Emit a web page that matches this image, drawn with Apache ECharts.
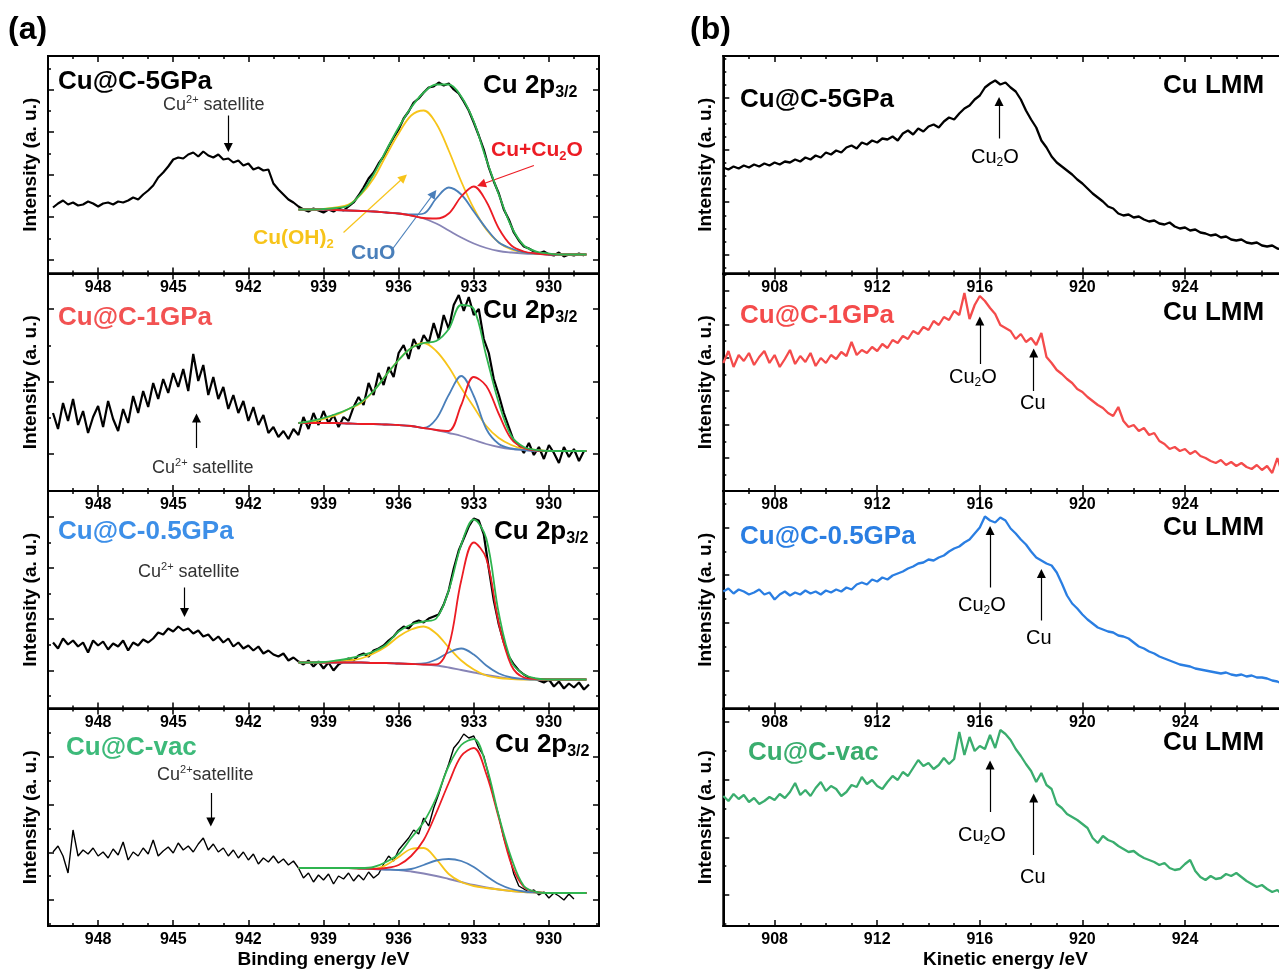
<!DOCTYPE html>
<html>
<head>
<meta charset="utf-8">
<title>Cu 2p3/2 and Cu LMM spectra</title>
<script src="https://cdn.jsdelivr.net/npm/echarts@6/dist/echarts.min.js"></script>
<style>
html, body { margin: 0; padding: 0; background: #fff; overflow: hidden; }
#chart { width: 1279px; height: 971px; }
</style>
</head>
<body>
<div id="chart"></div>
<script>
(function(){

// ---- data ----
var samples = ['Cu@C-5GPa', 'Cu@C-1GPa', 'Cu@C-0.5GPa', 'Cu@C-vac'];

var beLabels = [930, 933, 936, 939, 942, 945, 948];
var keLabels = [908, 912, 916, 920, 924];

// Cu 2p3/2 raw spectra, binding energy from 949.8 eV down in 0.2 eV steps
var be5GPa = [66,70,73,69,71,68,69,72,70,67, 70,71,69,72,71,73,76,74,79,83,
  88,96,101,107,114,116,115,119,121,117, 122,118,116,119,114,115,111,113,108,110,
  104,106,103,104,90,84,79,74,71,67, 64,62,65,63,61,64,62,65,63,67,
  71,78,86,95,101,110,117,127,136,144, 155,162,171,175,181,186,187,191,188,190,
  184,180,172,163,151,138,124,106,92,80, 64,54,41,33,27,25,22,20,22,19,
  18,21,17,19,18,20,18];
var be1GPa = [78,62,88,70,92,66,80,58,74,85, 64,90,72,60,82,68,95,78,100,84,
  108,92,112,98,118,104,122,100,137,110, 126,96,114,92,104,82,96,78,90,70,
  84,66,76,58,64,54,60,52,62,56, 74,62,78,66,80,68,76,64,74,70,
  84,94,86,108,96,118,106,124,114,138, 146,132,152,142,156,148,168,152,176,162,
  186,196,180,194,176,182,152,138,112,96, 78,64,50,46,38,48,36,44,32,46,
  38,28,44,34,42,30,40];
var be05GPa = [66,60,70,64,68,62,66,56,68,63, 67,59,65,62,68,58,66,63,69,66,
  70,76,74,80,77,82,78,80,75,78, 72,74,68,72,66,70,62,66,60,63,
  58,62,55,58,54,52,55,48,51,47, 44,48,42,47,40,46,38,44,47,50,
  48,53,55,52,58,60,63,68,72,78, 82,80,86,88,86,90,92,94,104,118,
  140,158,170,182,190,188,174,140,108,84, 66,52,44,38,34,31,30,28,26,29,
  22,27,20,25,21,26,19,24];
var beVac = [74,80,70,53,96,70,76,72,78,70, 74,68,77,71,84,66,74,70,78,72,
  86,70,75,79,73,83,76,80,74,82, 88,76,82,74,78,70,76,68,74,66,
  72,62,68,64,70,63,67,61,65,58, 48,53,44,51,46,52,42,50,47,53,
  45,51,46,54,48,52,62,70,65,76, 82,88,96,92,108,100,118,132,148,162,
  178,184,192,188,190,178,170,150,128,110, 88,72,52,40,37,34,36,31,34,28,
  33,30,26,32,27];

// fitted components, binding energy 940 eV down to 928.5 eV in 0.5 eV steps
var fitBE = [940, 939.5, 939, 938.5, 938, 937.5, 937, 936.5, 936, 935.5, 935, 934.5,
  934, 933.5, 933, 932.5, 932, 931.5, 931, 930.5, 930, 929.5, 929, 928.5];

var fitBg5  = [64,64,64,63.5,63,62.5,62,61,60,58,55,50,43,36,30,25.5,22.5,21,20,19.5,19,19,19,19];
var fitOH5  = [64,64,64.5,66,69,79,95,118,140,158,163,150,123,92,65,44,31,24,21,20,19.5,19,19,19];
var fitCuO5 = [64,64,64,63.5,63,62.5,62,61,60,59,60,75,86,79,62,45,31,25,21,20,19,19,19,19];
var fitCu5  = [64,64,64,63.5,63,62.5,62,61,60,58,55.5,55,60,77,87,72,45,28,22,20,19,19,19,19];
var fitSum5 = [64,64,64.5,65.5,68,80,99,123,146,166,181,189,189,177,152,114,79,47,28,22,20,19,19,19];

var fitBg1  = [68,68,68,68,67.5,67,67,66.5,66,65,63,61,58,55,51,47,44,42,41,40,40,40,40,40];
var fitOH1  = [68,69,72,76,82,88,100,116,131,143,148,140,124,103,84,65,53,46,42,41,40,40,40,40];
var fitCuO1 = [68,68,68,68,67.5,67,67,66.5,66,65,63,72,96,115,95,62,47,42.5,41,40,40,40,40,40];
var fitCu1  = [68,68,68,68,67.5,67,67,66.5,66,65,63,61,60,86,114,105,77,52,43,40.5,40,40,40,40];
var fitSum1 = [68,70,73,77,82,89,100,116,131,143,148,150,162,186,182,135,88,55,44,41,40,40,40,40];

var fitBg05  = [46,46,46,46,46,46,45.5,45.5,45,44.5,44,43,41,38.5,36,33.5,31.5,30,29.5,29,29,29,29,29];
var fitOH05  = [46,46,46,47,48,50,55,62,72,79,82,75,61,48,39,33,30.5,29.5,29,29,29,29,29,29];
var fitCuO05 = [46,46,46,46,46,46,45.5,45.5,45,44.5,45,49,56,60,54,43,35,31,29.5,29,29,29,29,29];
var fitCu05  = [46,46,46,46,46,46,45.5,45.5,45,44.5,44,44,62,128,166,150,85,43,31,29.5,29,29,29,29];
var fitSum05 = [46,46,46.5,48,50,53,57,64,77,84,87,90,118,164,189,170,95,47,34,30,29,29,29,29];

var fitBgVac  = [58,58,58,58,58,57.5,57,56.5,56,54.5,52.5,50,47,44,41,38.5,36.5,35,34,33.5,33,33,33,33];
var fitOHVac  = [58,58,58,58,58,57.5,57,61,69,77,78,67,52,44,40,38,36.5,35,34,33.5,33,33,33,33];
var fitCuOVac = [58,58,58,58,58,57.5,57,56.5,56,57,61,65.5,67,65,59,50,42,37,34.5,33.5,33,33,33,33];
var fitCuVac  = [58,58,58,58,58,57.5,57,58,61,70,86,113,143,170,178,152,108,62,39,34,33,33,33,33];
var fitSumVac = [58,58,58,58,58,58,59,64,72,88,104,128,160,181,187,160,110,68,40,34,33,33,33,33];

// Cu LMM raw spectra, kinetic energy from 906.0 eV up in 0.2 eV steps
var ke5GPa = [106,104,107,105,108,106,109,107,110,108, 111,109,112,111,114,112,116,114,118,116,
  121,119,123,121,126,128,125,131,129,133, 131,135,134,137,133,140,143,139,145,142,
  147,149,146,152,156,154,160,165,168,174, 178,186,190,193,189,191,186,182,174,163,
  154,146,133,126,117,111,107,103,99,94, 90,85,80,76,72,67,65,60,58,59,
  56,57,54,52,53,50,49,51,47,45, 46,43,44,41,40,38,39,36,37,34,
  33,34,31,30,31,28,27,28,25,24];
var ke1GPa = [128,140,124,136,130,138,126,134,140,128, 136,124,132,141,127,135,129,138,125,133,
  128,136,132,139,135,149,136,141,138,144, 140,147,143,151,148,155,152,160,157,164,
  161,170,166,174,171,180,176,198,172,186, 195,190,183,177,166,163,160,152,157,149,
  153,146,158,134,128,121,117,112,108,102, 99,94,90,86,83,78,75,84,70,64,
  66,60,63,56,58,50,47,42,44,40, 42,37,40,35,33,30,28,31,26,29,
  25,28,24,22,26,21,25,18,33,17];
var ke05GPa = [117,120,115,119,117,114,116,119,114,116, 109,114,117,113,116,114,118,115,117,114,
  118,116,119,117,121,119,124,126,124,129, 127,131,129,133,135,137,140,142,145,146,
  149,148,151,153,157,160,162,166,169,175, 181,192,188,186,191,188,180,175,169,164,
  157,151,148,145,143,136,125,113,105,100, 94,89,85,81,79,77,76,73,72,70,
  66,62,60,57,55,52,50,48,46,44, 43,42,40,39,38,37,36,35,36,34,
  33,34,32,33,31,31,30,28,27,25];
var keVac = [130,125,132,127,131,124,128,122,125,129, 126,132,128,134,143,131,136,130,138,144,
  135,140,137,130,134,141,139,149,142,146, 140,137,144,150,146,154,150,158,166,160,
  163,157,161,168,162,167,194,171,189,175, 180,177,191,178,196,192,186,177,170,162,
  155,144,153,141,137,122,118,112,109,106, 102,98,88,83,90,86,84,80,77,74,
  75,71,68,66,64,61,63,58,56,57, 62,66,55,49,46,50,47,48,52,50,
  53,49,45,42,39,41,37,34,36,31];

// y ticks per panel: first major, major spacing, minor divisions (intensity units)
var yTicksA = [[14, 42.5, 2], [37, 72.5, 2], [38, 51.3, 2], [26, 47.7, 2]];
var yTicksB = [[19, 52.3, 4], [33, 33.4, 2], [38, 47.7, 2], [31, 57.7, 2]];

// ---- style ----
var fam = "'Liberation Sans', Arial, Helvetica, sans-serif";
var cBg = '#8784b6', cOH = '#f7c41a', cCuO = '#4a7fba', cCu = '#ec1c24', cSum = '#2fb44f';
var sampleColor = ['#000', '#f25252', '#3d8fe8', '#3dba7a'];
var lmmColor = ['#000', '#f44b4b', '#2a7ee2', '#3aad6e'];
var panelTop = 56, panelH = 217.5;
var tickLine = {color: '#000', width: 1.5};

var grids = [], xAxes = [], yAxes = [], series = [];

function font(size, bold) {
	return (bold ? 'bold ' : '') + size + 'px ' + fam;
}

// axis that only draws ticks at every integer of its own range
function tickAxis(g, pos, min, max, inverse, len) {
	return {
		gridIndex: g, type: 'value', position: pos, min: min, max: max, inverse: inverse,
		minInterval: 1, maxInterval: 1, splitNumber: Math.max(1, Math.round(Math.abs(max - min))),
		axisLine: {show: true, onZero: false, lineStyle: {color: '#000', width: 2}},
		splitLine: {show: false}, axisLabel: {show: false},
		axisTick: {show: true, inside: true, length: len, lineStyle: tickLine},
		silent: true
	};
}

function addPanel(left, width, row, isA, yt, xName) {
	var g = grids.length;
	grids.push({left: left, top: panelTop + row * panelH, width: width, height: panelH,
		show: true, borderColor: '#000', borderWidth: 2, backgroundColor: 'transparent',
		containLabel: false, outerBoundsMode: 'none'});

	var xi = xAxes.length;
	var xMin = isA ? 928 : 906, xMax = isA ? 950 : 928;
	xAxes.push({
		gridIndex: g, type: 'value', position: 'bottom', min: xMin, max: xMax, inverse: isA,
		axisLine: {show: false, onZero: false}, splitLine: {show: false}, axisTick: {show: false},
		axisLabel: {show: true, customValues: isA ? beLabels : keLabels, margin: 6, color: '#000',
			fontSize: 16, fontWeight: 'bold', fontFamily: fam},
		name: xName || '', nameLocation: 'middle', nameGap: 24,
		nameTextStyle: {color: '#000', fontSize: 19, fontWeight: 'bold', fontFamily: fam}
	});
	// majors every 3 eV (a) or 4 eV (b) in their own units, minors every 1 eV
	var mMin = isA ? -2 / 3 : -0.5, mMax = isA ? 20 / 3 : 5;
	['bottom', 'top'].forEach(function(pos) {
		xAxes.push(tickAxis(g, pos, mMin, mMax, false, 6));
		xAxes.push(tickAxis(g, pos, xMin, xMax, isA, 3));
	});

	var yi = yAxes.length;
	yAxes.push({gridIndex: g, type: 'value', min: 0, max: panelH, show: false});
	var p0 = yt[0], d = yt[1], dm = yt[1] / yt[2];
	['left', 'right'].forEach(function(pos) {
		var major = tickAxis(g, pos, -p0 / d, (panelH - p0) / d, false, 6);
		if (pos === 'left') {
			major.name = 'Intensity (a. u.)';
			major.nameLocation = 'middle';
			major.nameRotate = 90;
			major.nameGap = 8;
			major.nameTextStyle = {color: '#000', fontSize: 19, fontWeight: 'bold', fontFamily: fam};
		}
		yAxes.push(major);
		yAxes.push(tickAxis(g, pos, -p0 / dm, (panelH - p0) / dm, false, 3));
	});
	return {x: xi, y: yi};
}

function rawPairs(start, dir, values) {
	return values.map(function(v, i) {
		return [Math.round((start + dir * 0.2 * i) * 100) / 100, v];
	});
}

function fitPairs(values) {
	return values.map(function(v, i) { return [fitBE[i], v]; });
}

function line(ax, data, color, width, smooth, z) {
	return {
		type: 'line', xAxisIndex: ax.x, yAxisIndex: ax.y, data: data,
		showSymbol: false, symbol: 'none', smooth: smooth ? 0.35 : false,
		lineStyle: {color: color, width: width}, itemStyle: {color: color},
		z: z, silent: true, animation: false
	};
}

// arrows: [x1, y1, x2, y2, color], head at the second point
function arrows(list) {
	return {
		silent: true, animation: false, symbol: ['none', 'triangle'], symbolSize: 9,
		label: {show: false}, emphasis: {disabled: true},
		lineStyle: {type: 'solid', width: 1.2, color: '#000'},
		data: list.map(function(a) {
			var c = a[4] || '#000';
			return [{coord: [a[0], a[1]], lineStyle: {color: c, width: 1.2, type: 'solid'}, itemStyle: {color: c}},
				{coord: [a[2], a[3]]}];
		})
	};
}

// text with lowered (s) or raised (p) parts
function label(x, y, parts, size, bold, color) {
	var small = Math.round(size * 0.62);
	var rich = {
		m: {font: font(size, bold), fill: color, lineHeight: size + 4},
		s: {font: font(small, bold), fill: color, lineHeight: small + 1, verticalAlign: 'bottom'},
		p: {font: font(small, bold), fill: color, lineHeight: small + 1, verticalAlign: 'top'}
	};
	var text = parts.map(function(p) { return '{' + p[1] + '|' + p[0] + '}'; }).join('');
	return {type: 'text', x: x, y: y, silent: true, z: 100,
		style: {text: text, rich: rich, font: font(size, bold), fill: color, align: 'left', verticalAlign: 'middle'}};
}

// ---- panel (a): Cu 2p3/2 ----
var rawA = [be5GPa, be1GPa, be05GPa, beVac];
var fitsA = [
	[fitBg5, fitOH5, fitCuO5, fitCu5, fitSum5],
	[fitBg1, fitOH1, fitCuO1, fitCu1, fitSum1],
	[fitBg05, fitOH05, fitCuO05, fitCu05, fitSum05],
	[fitBgVac, fitOHVac, fitCuOVac, fitCuVac, fitSumVac]
];
var arrowsA = [
	[[942.8, 158, 942.8, 126], [930.6, 108, 932.7, 89, cCu], [938.2, 41, 935.8, 96, cOH], [936.26, 24, 934.6, 80, cCuO]],
	[[944.07, 43, 944.07, 73]],
	[[944.55, 121, 944.55, 96]],
	[[943.5, 133, 943.5, 104]]
];
var fitColors = [cBg, cOH, cCuO, cCu, cSum];

for (var r = 0; r < 4; r++) {
	var ax = addPanel(48, 551, r, true, yTicksA[r], r === 3 ? 'Binding energy /eV' : '');
	var s = line(ax, rawPairs(949.8, -1, rawA[r]), '#000', r === 3 ? 1.4 : 2.2, false, 2);
	s.markLine = arrows(arrowsA[r]);
	series.push(s);
	for (var k = 0; k < 5; k++) {
		series.push(line(ax, fitPairs(fitsA[r][k]), fitColors[k], 1.8, true, 3 + k));
	}
}

// ---- panel (b): Cu LMM ----
var rawB = [ke5GPa, ke1GPa, ke05GPa, keVac];
var arrowsB = [
	[[916.75, 135, 916.75, 172]],
	[[916.0, 127, 916.0, 170], [918.1, 100, 918.1, 138]],
	[[916.4, 121, 916.4, 178], [918.4, 88, 918.4, 135]],
	[[916.4, 114, 916.4, 161], [918.1, 71, 918.1, 128]]
];
for (var r2 = 0; r2 < 4; r2++) {
	var axb = addPanel(723.3, 564.3, r2, false, yTicksB[r2], r2 === 3 ? 'Kinetic energy /eV' : '');
	var sb = line(axb, rawPairs(906, 1, rawB[r2]), lmmColor[r2], 2.3, false, 2);
	sb.markLine = arrows(arrowsB[r2]);
	series.push(sb);
}

// ---- text ----
var notes = [
	label(8, 30, [['(a)', 'm']], 32, true, '#000'),
	label(690, 30, [['(b)', 'm']], 32, true, '#000'),

	label(58, 82, [[samples[0], 'm']], 26, true, sampleColor[0]),
	label(483, 86, [['Cu 2p', 'm'], ['3/2', 's']], 26, true, '#000'),
	label(163, 105, [['Cu', 'm'], ['2+', 'p'], [' satellite', 'm']], 18, false, '#333'),
	label(491, 150, [['Cu+Cu', 'm'], ['2', 's'], ['O', 'm']], 21, true, cCu),
	label(253, 238, [['Cu(OH)', 'm'], ['2', 's']], 21, true, cOH),
	label(351, 253, [['CuO', 'm']], 21, true, cCuO),

	label(58, 318, [[samples[1], 'm']], 26, true, sampleColor[1]),
	label(483, 311, [['Cu 2p', 'm'], ['3/2', 's']], 26, true, '#000'),
	label(152, 468, [['Cu', 'm'], ['2+', 'p'], [' satellite', 'm']], 18, false, '#333'),

	label(58, 532, [[samples[2], 'm']], 26, true, sampleColor[2]),
	label(494, 532, [['Cu 2p', 'm'], ['3/2', 's']], 26, true, '#000'),
	label(138, 572, [['Cu', 'm'], ['2+', 'p'], [' satellite', 'm']], 18, false, '#333'),

	label(66, 748, [[samples[3], 'm']], 26, true, sampleColor[3]),
	label(495, 745, [['Cu 2p', 'm'], ['3/2', 's']], 26, true, '#000'),
	label(157, 775, [['Cu', 'm'], ['2+', 'p'], ['satellite', 'm']], 18, false, '#333'),

	label(740, 100, [[samples[0], 'm']], 26, true, lmmColor[0]),
	label(1163, 86, [['Cu LMM', 'm']], 26, true, '#000'),
	label(971, 157, [['Cu', 'm'], ['2', 's'], ['O', 'm']], 20, false, '#000'),

	label(740, 316, [[samples[1], 'm']], 26, true, lmmColor[1]),
	label(1163, 313, [['Cu LMM', 'm']], 26, true, '#000'),
	label(949, 377, [['Cu', 'm'], ['2', 's'], ['O', 'm']], 20, false, '#000'),
	label(1020, 403, [['Cu', 'm']], 20, false, '#000'),

	label(740, 537, [[samples[2], 'm']], 26, true, lmmColor[2]),
	label(1163, 528, [['Cu LMM', 'm']], 26, true, '#000'),
	label(958, 605, [['Cu', 'm'], ['2', 's'], ['O', 'm']], 20, false, '#000'),
	label(1026, 638, [['Cu', 'm']], 20, false, '#000'),

	label(748, 753, [[samples[3], 'm']], 26, true, lmmColor[3]),
	label(1163, 743, [['Cu LMM', 'm']], 26, true, '#000'),
	label(958, 835, [['Cu', 'm'], ['2', 's'], ['O', 'm']], 20, false, '#000'),
	label(1020, 877, [['Cu', 'm']], 20, false, '#000')
];

var chart = echarts.init(document.getElementById('chart'), null, {renderer: 'canvas'});
chart.setOption({
	animation: false,
	backgroundColor: '#fff',
	textStyle: {fontFamily: fam},
	grid: grids,
	xAxis: xAxes,
	yAxis: yAxes,
	series: series,
	graphic: {elements: notes}
});

})();
</script>
</body>
</html>
